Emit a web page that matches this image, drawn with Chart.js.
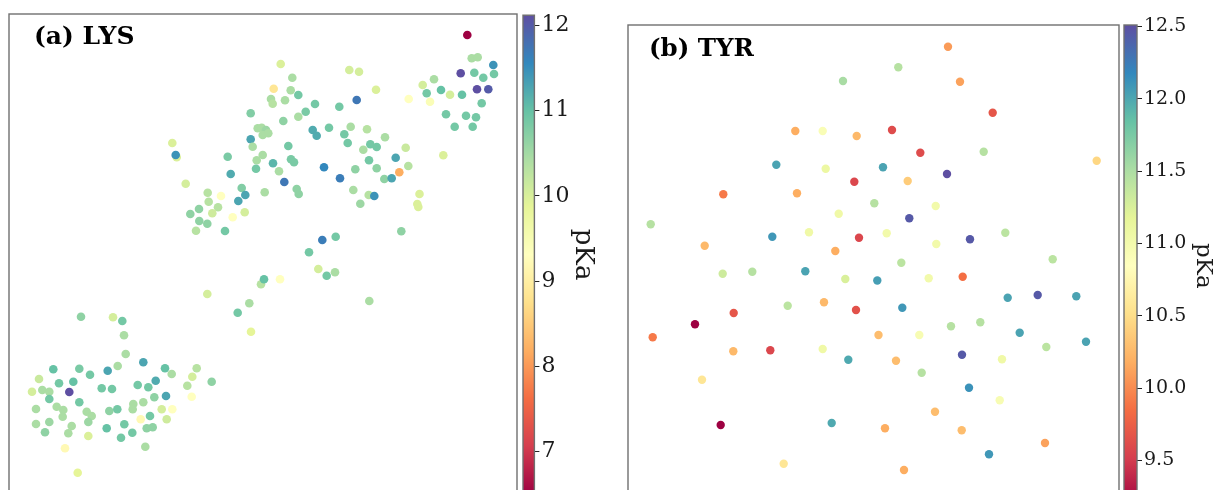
<!DOCTYPE html>
<html><head><meta charset="utf-8">
<script src="https://cdn.jsdelivr.net/npm/chart.js@4.4.1/dist/chart.umd.min.js"></script>
<style>
html,body{margin:0;padding:0;background:#fff;width:1216px;height:490px;overflow:hidden;position:relative;}
canvas{position:absolute;}
</style></head><body>
<canvas id="scA" width="525" height="510" style="left:0;top:0"></canvas>
<canvas id="cbA" width="95" height="510" style="left:515px;top:0"></canvas>
<canvas id="scB" width="530" height="520" style="left:600px;top:0"></canvas>
<canvas id="cbB" width="120" height="520" style="left:1110px;top:0"></canvas>
<script>
// ---------- (a) LYS : embedding coordinates and pKa ----------
const lysX = [457.3,461.7,467.7,483.3,450.7,464.3,473.3,484,424,412.7,
416.7,431,440,452,467,478.3,471.7,398.7,420,436,
456,466,444.7,462.7,433.3,270.7,282.3,263.7,280.7,288.3,
261,262.7,275,240.7,288.3,273.3,247.7,251.7,256,252.7,
258.3,162.3,166.7,165.7,240.7,242.7,278.3,217.7,252.7,246.7,
281,284,263,246,269,220.7,274.3,175.7,286.7,288.7,
231.7,197.7,254.7,211,235.3,228.3,198.7,208,189,202.3,
180.3,234.7,222.7,189.3,197.3,186,215,339.3,349,366,
346.7,329.3,305,295.7,302.7,306.7,319,340.7,334.3,357,
337.7,375,360.3,366.7,353.3,395.7,359,385.7,314,345.3,
366.7,398.3,389.3,374.3,381.7,330,343.3,358.7,364.3,350.3,
409.5,407.3,408.3,391.3,312.3,325.7,299,308.3,316.7,325,
251,254,270,359.3,197.3,239.3,227.7,241,
71,103,112.3,114,115.7,107.7,133.3,97.7,80,69.3,
43.3,29,49,63.3,59.3,22,32.3,39.3,39.3,69.3,
91.7,102,127.7,138.3,145.7,155,161.7,186.7,182.3,177.3,
201.7,156,144.3,133.3,123.3,181.7,26,46.7,53.3,76.7,
81.7,52.7,99.3,107.3,122.7,151.7,162.3,156.7,140,130.7,
26,39.3,61.7,78.3,35,58.3,96.7,114.3,122.3,111,
136.7,142.7,78.3,135.3,55,67.7];
const lysY = [459,435.7,436.7,429,420.7,421.3,416.3,420,414.7,409,
400.7,404,399.3,399.3,404.7,404.7,390.7,395,392.3,379.7,
378.3,376.7,367.3,367.3,338.7,430,416.3,405.3,403.7,399,
395,390.3,393.7,380.7,377.3,373,365.7,366.3,364,359,
360.7,351,336.7,339,354.7,347.3,348,337.3,339,333.7,
334.7,331.7,330.7,325.3,322.7,320,312,310.3,305,300,
306,301.3,301.7,298,299,293,292.3,286.7,285,280.7,
280,281.7,276.7,273,270.3,263.3,263,424,422.3,404.3,
394,387.3,390,382.3,364,358.3,366.3,367.3,359.7,364.7,
351,356.7,349.7,347,344.3,346.3,333.7,336.3,326.7,324.7,
325.7,328,321.7,315,315.7,315.7,304,299,298,290.3,
300,290,287,262.7,254,257.3,241.7,225,218.3,221.7,
209.7,214.7,214.7,193,200,190.7,181.3,162.3,
177.3,176.7,173,158.7,140,128,131.7,123.3,119.3,125.3,
124.7,115,110.7,112.3,102,102.3,104,102.3,95,91.7,
105.7,105,109,106.7,113.3,125.7,120,125.7,117.3,108.3,
112.3,98,96.7,91.7,90,97.3,85,87.3,84,82.3,
78,77.3,83,84.7,84.7,84.7,84.7,74.7,78,74.7,
70,72,68,72,61.7,60.7,65.7,69.7,61.3,56.3,
65.7,66.7,58,47.3,45.7,21.3];
const lysPka = [6.5,10.43,10.43,11.45,12.12,10.88,10.88,10.88,10.43,10.04,
10.88,11.0,10.04,11.0,12.12,12.0,10.88,9.31,9.42,10.88,
10.88,10.88,10.88,10.88,9.98,9.98,10.43,8.86,10.43,10.88,
10.43,10.32,10.43,10.77,10.43,10.66,10.43,10.43,10.55,10.43,
10.43,9.98,9.98,11.45,11.28,10.43,10.88,10.83,10.43,10.43,
10.83,10.83,11.11,10.88,10.43,11.22,11.73,10.04,10.66,10.66,
10.77,10.32,10.43,9.31,11.28,11.28,10.32,10.32,10.66,10.1,
10.66,10.04,9.31,10.66,10.66,10.32,10.88,10.04,10.04,9.98,
11.73,10.88,10.88,10.83,11.22,11.22,10.88,10.43,10.88,10.32,
10.88,10.43,10.88,10.88,10.43,10.15,10.88,11.28,11.56,10.66,
10.66,10.32,8.19,10.66,11.28,11.67,10.43,10.32,11.45,10.55,
9.98,9.98,9.98,10.66,11.67,10.88,10.88,10.04,10.88,10.43,
10.32,11.0,9.31,10.43,10.04,10.43,10.88,9.87,
10.66,10.04,10.88,10.43,10.43,10.43,11.28,11.28,10.88,10.83,
11.0,10.15,10.88,11.0,12.12,10.04,10.43,10.43,10.88,10.88,
10.88,10.88,10.88,10.88,11.22,11.0,10.43,10.32,10.04,10.32,
10.66,11.28,10.66,10.43,10.43,9.31,10.43,10.43,10.43,10.43,
10.43,10.43,10.66,10.88,10.43,10.04,9.31,10.1,10.88,9.2,
10.43,10.55,10.43,10.55,10.66,10.43,11.0,10.88,10.88,10.88,
10.66,10.66,9.98,10.43,9.2,9.87];
const lysRange = [6.5, 12.12];
const lysTicks = [7, 8, 9, 10, 11, 12];

// ---------- (b) TYR ----------
const tyrX = [215,167.3,194.7,228.7,148.3,197.7,226.3,95.3,169,246.3,
22.7,210.7,144.3,181,231,76.7,320,270.3,332,364.7,
264,292.3,355.7,255,468.7,319,279.7,307.7,281.3,258.7,
308.3,342,377.3,207.3,94.7,124.3,177.3,217.3,249.3,159.7,
196,105.7,228,67,24.7,105.3,142.3,194.7,220.3,250.5,
74,92.7,203.7,155.7,273.3,424.7,300.7,334.7,379.7,409.7,
448.3,274.3,291.3,323,352.3,391.7,418.3,458,268,334,
374,293.7,341,371.7,307,257,333.7,417,361,276];
const tyrY = [428,378,378,373,344.3,340.3,327.3,314.7,315.7,305.7,
284.7,295.3,272.3,276.7,271.3,263.3,462.3,441.7,427.3,396.3,
379,356.3,357.3,341.7,348.3,335,328,303,290.7,275.7,
265,269.7,276.3,258,235.3,237.3,237.7,230,228.5,203.3,
206.7,196,199,184.7,171.7,157.7,158.7,160,149.3,174,
129.3,84,86,45.3,246.3,249.7,230.7,232.3,211.3,214,
212.7,201.3,174,182.7,186.7,176.3,162,167.3,148.3,154.3,
149.7,136.3,121.3,108.7,97.3,80.7,78.7,66,54.7,39];
const tyrPka = [11.52,10.18,10.92,10.25,12.02,11.08,9.58,9.91,10.18,11.45,
11.45,11.05,12.09,11.05,9.58,10.25,10.08,11.45,10.12,9.68,
9.61,9.61,11.45,12.02,10.45,12.52,10.38,11.02,12.45,11.02,
11.02,12.45,11.42,10.18,11.32,11.45,12.02,11.25,12.05,11.42,
10.25,9.68,9.65,9.18,9.91,10.25,9.58,11.05,11.99,10.28,
10.58,9.18,11.99,10.58,11.42,11.42,11.02,9.85,12.02,12.45,
12.02,12.09,10.95,11.45,11.45,12.02,11.42,12.02,10.28,12.45,
11.05,11.45,12.12,10.95,10.28,10.18,10.28,10.12,12.09,10.18];
const tyrRange = [9.18, 12.51];
const tyrTicks = [9.5, 10, 10.5, 11, 11.5, 12, 12.5];

// ---------- Spectral colormap ----------
const SPECTRAL = ['#9e0142','#d53e4f','#f46d43','#fdae61','#fee08b','#ffffbf','#e6f598','#abdda4','#66c2a5','#3288bd','#5e4fa2'];
const hexRgb = h => [1,3,5].map(i => parseInt(h.slice(i, i+2), 16));
function cmap(v, range) {
  let t = (v - range[0]) / (range[1] - range[0]);
  t = Math.max(0, Math.min(1, t)) * (SPECTRAL.length - 1);
  const i = Math.min(Math.floor(t), SPECTRAL.length - 2), f = t - i;
  const a = hexRgb(SPECTRAL[i]), b = hexRgb(SPECTRAL[i+1]);
  return 'rgb(' + a.map((c, k) => Math.round(c + (b[k] - c) * f)).join(',') + ')';
}

const FONT = '"DejaVu Serif", "Liberation Serif", serif';

const framePlugin = {
  id: 'frame',
  afterDraw(chart, args, o) {
    const {ctx, chartArea: a} = chart;
    ctx.save();
    ctx.strokeStyle = o.color || '#6e6e6e';
    ctx.lineWidth = o.width || 1.4;
    ctx.strokeRect(a.left, a.top, a.right - a.left, a.bottom - a.top);
    ctx.restore();
  }
};
const labelPlugin = {
  id: 'panelLabel',
  afterDraw(chart, args, o) {
    if (!o.text) return;
    const {ctx, chartArea: a} = chart;
    ctx.save();
    ctx.font = 'bold ' + o.size + 'px ' + FONT;
    ctx.fillStyle = '#000';
    ctx.textBaseline = 'alphabetic';
    ctx.textAlign = 'left';
    ctx.fillText(o.text, a.left + o.dx, a.top + o.dy);
    ctx.restore();
  }
};
const cbarPlugin = {
  id: 'cbar',
  beforeDatasetsDraw(chart, args, o) {
    const {ctx, chartArea: a} = chart;
    const s = chart.scales.y;
    const y0 = s.getPixelForValue(o.range[0]), y1 = s.getPixelForValue(o.range[1]);
    const g = ctx.createLinearGradient(0, y0, 0, y1);
    SPECTRAL.forEach((c, i) => g.addColorStop(i / (SPECTRAL.length - 1), c));
    ctx.save();
    ctx.fillStyle = g;
    ctx.fillRect(a.left, a.top, a.right - a.left, a.bottom - a.top);
    ctx.restore();
  }
};

function scatter(id, xs, ys, pk, range, xMax, yMax, pad, radius, label) {
  new Chart(document.getElementById(id), {
    type: 'scatter',
    data: { datasets: [{
      data: xs.map((x, i) => ({x: x, y: ys[i]})),
      backgroundColor: pk.map(v => cmap(v, range)),
      borderWidth: 0, pointRadius: radius, pointHoverRadius: radius
    }]},
    options: {
      responsive: false, animation: false, devicePixelRatio: 1, events: [],
      layout: { padding: pad },
      plugins: { legend: {display: false}, tooltip: {enabled: false},
        frame: {color: '#707070', width: 1.4}, panelLabel: label },
      scales: {
        x: { display: false, min: xMax[0], max: xMax[1] },
        y: { display: false, min: yMax[0], max: yMax[1] }
      }
    },
    plugins: [framePlugin, labelPlugin]
  });
}

function colorbar(id, range, ticks, pad, axisW, tickSize, titleSize, fmt) {
  new Chart(document.getElementById(id), {
    type: 'scatter',
    data: { datasets: [{ data: [] }] },
    options: {
      responsive: false, animation: false, devicePixelRatio: 1, events: [],
      layout: { padding: pad },
      plugins: { legend: {display: false}, tooltip: {enabled: false},
        cbar: {range: range}, frame: {color: '#707070', width: 1.4} },
      scales: {
        x: { display: false, min: 0, max: 1 },
        y: {
          position: 'right', min: range[0], max: range[1],
          afterBuildTicks: s => { s.ticks = ticks.map(v => ({value: v})); },
          afterFit: s => { s.width = axisW; },
          grid: { display: true, drawOnChartArea: false, drawTicks: true, tickLength: 5, color: '#222', lineWidth: 1 },
          border: { display: false },
          ticks: { padding: 2, color: '#1a1a1a', autoSkip: false, font: {family: FONT, size: tickSize}, callback: v => fmt(v) },
          title: { display: true, text: 'pKa', color: '#1a1a1a', padding: 0, font: {family: FONT, size: titleSize} }
        }
      }
    },
    plugins: [cbarPlugin, framePlugin]
  });
}

scatter('scA', lysX, lysY, lysPka, lysRange, [-1, 507], [0, 480],
  {left: 9, top: 14, right: 8, bottom: 16}, 4.3,
  {text: '(a) LYS', size: 25, dx: 25, dy: 30});
colorbar('cbA', lysRange, lysTicks, {left: 8, top: 14, right: 11.4, bottom: 16}, 64.2, 22, 26, v => String(v));

scatter('scB', tyrX, tyrY, tyrPka, tyrRange, [0, 491], [0, 484],
  {left: 28, top: 25, right: 11, bottom: 11}, 4.2,
  {text: '(b) TYR', size: 24.5, dx: 21, dy: 31});
colorbar('cbB', tyrRange, tyrTicks, {left: 14, top: 25, right: 13.6, bottom: 11}, 79.4, 19, 23, v => v.toFixed(1));
</script>
</body></html>
